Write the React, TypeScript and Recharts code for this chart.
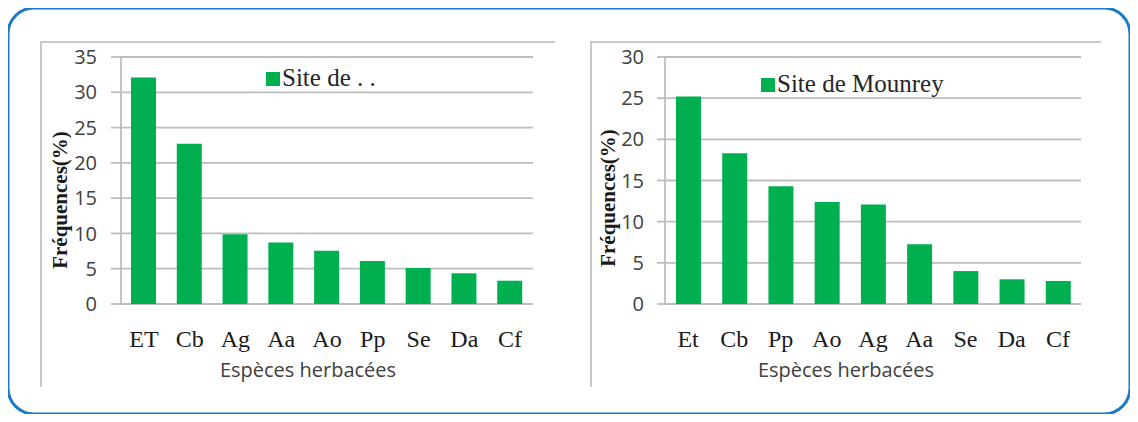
import React from "react";
import {
  BarChart,
  Bar,
  XAxis,
  YAxis,
  CartesianGrid,
  Legend,
  Label,
} from "recharts";

// Site 1 (ordered by frequency)
const speciesSite1 = ["ET", "Cb", "Ag", "Aa", "Ao", "Pp", "Se", "Da", "Cf"];
const freqSite1 = [32.1, 22.7, 9.9, 8.7, 7.55, 6.1, 5.1, 4.35, 3.3];
const ticksSite1 = [0, 5, 10, 15, 20, 25, 30, 35];

// Site de Mounrey
const speciesMounrey = ["Et", "Cb", "Pp", "Ao", "Ag", "Aa", "Se", "Da", "Cf"];
const freqMounrey = [25.2, 18.3, 14.3, 12.4, 12.1, 7.25, 4.0, 3.0, 2.8];
const ticksMounrey = [0, 5, 10, 15, 20, 25, 30];

const GREEN = "#00b050";
const GRID = "#bdbdbd";
const SERIF = "'Liberation Serif', 'Times New Roman', serif";
const SANS = "'Open Sans', 'Noto Sans', sans-serif";

interface PanelProps {
  left: number;
  categories: string[];
  values: number[];
  ticks: number[];
  seriesName: string;
  width: number;
  yAxisWidth: number;
  marginRight: number;
  tickSize: number;
  tickMargin: number;
  legendLeft: number;
  legendTop: number;
  yLabelX: number;
  yLabelY: number;
  xTitleX: number;
}

function FreqPanel(p: PanelProps) {
  const data = p.categories.map((c, i) => ({ name: c, freq: p.values[i] }));
  const height = 346;

  return (
    <>
      <div
        style={{
          position: "absolute",
          left: p.left,
          top: 41,
          width: p.width,
          height: height,
          borderTop: `2px solid #c9c9c9`,
          borderLeft: `2px solid #c9c9c9`,
          boxSizing: "border-box",
        }}
      />
      <div style={{ position: "absolute", left: p.left, top: 42 }}>
        <BarChart
          width={p.width}
          height={height}
          data={data}
          margin={{ top: 15, right: p.marginRight, bottom: 0, left: 0 }}
        >
          <CartesianGrid
            vertical={false}
            stroke={GRID}
            strokeWidth={1.8}
          />
          <XAxis
            dataKey="name"
            height={84}
            axisLine={false}
            tickLine={false}
            tickSize={0}
            tickMargin={0}
            interval={0}
            tick={({ x, y, payload }: any) => (
              <text
                x={x}
                y={y + 43}
                textAnchor="middle"
                fontFamily={SERIF}
                fontSize={24}
                fill="#1a1a1a"
              >
                {payload.value}
              </text>
            )}
          >
            <Label
              content={() => (
                <text
                  x={p.xTitleX}
                  y={335}
                  textAnchor="middle"
                  fontFamily={SANS}
                  fontSize={20}
                  fill="#404040"
                >
                  Espèces herbacées
                </text>
              )}
            />
          </XAxis>
          <YAxis
            width={p.yAxisWidth}
            domain={[0, p.ticks[p.ticks.length - 1]]}
            ticks={p.ticks}
            interval={0}
            stroke={GRID}
            strokeWidth={1.8}
            tickSize={p.tickSize}
            tickMargin={p.tickMargin}
            tick={{ fill: "#404040", fontSize: 20, fontFamily: SANS }}
          >
            <Label
              content={() => (
                <text
                  x={p.yLabelX}
                  y={p.yLabelY}
                  transform={`rotate(-90, ${p.yLabelX}, ${p.yLabelY})`}
                  textAnchor="middle"
                  fontFamily={SERIF}
                  fontWeight="bold"
                  fontSize={21}
                  fill="#1a1a1a"
                >
                  Fréquences(%)
                </text>
              )}
            />
          </YAxis>
          {/* centred + middle so the legend doesn't eat into the plot area */}
          <Legend
            layout="horizontal"
            verticalAlign="middle"
            align="center"
            wrapperStyle={{
              top: p.legendTop,
              left: p.legendLeft,
              width: "auto",
            }}
            content={() => (
              <div
                style={{
                  fontFamily: SERIF,
                  fontSize: 25,
                  lineHeight: 1,
                  color: "#262626",
                  whiteSpace: "nowrap",
                }}
              >
                <span
                  style={{
                    display: "inline-block",
                    width: 14,
                    height: 14,
                    background: GREEN,
                    marginRight: 2,
                  }}
                />
                {p.seriesName}
              </div>
            )}
          />
          <Bar
            dataKey="freq"
            name={p.seriesName}
            fill={GREEN}
            barSize={25}
            isAnimationActive={false}
          />
        </BarChart>
      </div>
    </>
  );
}

export default function App() {
  return (
    <div
      style={{
        position: "relative",
        width: 1138,
        height: 422,
        margin: -8,
        background: "#ffffff",
        overflow: "hidden",
      }}
    >
      <svg
        width={1138}
        height={422}
        style={{ position: "absolute", left: 0, top: 0 }}
      >
        <rect
          x={8}
          y={8}
          width={1122}
          height={406}
          rx={26}
          ry={26}
          fill="none"
          stroke="#1a7cc4"
          strokeWidth={3}
        />
      </svg>
      <FreqPanel
        left={40}
        categories={speciesSite1}
        values={freqSite1}
        ticks={ticksSite1}
        seriesName="Site de . ."
        width={515}
        yAxisWidth={81}
        marginRight={22}
        tickSize={10}
        tickMargin={14}
        legendLeft={226}
        legendTop={23}
        yLabelX={27}
        yLabelY={158}
        xTitleX={268}
      />
      <FreqPanel
        left={590}
        categories={speciesMounrey}
        values={freqMounrey}
        ticks={ticksMounrey}
        seriesName="Site de Mounrey"
        width={511}
        yAxisWidth={75}
        marginRight={20}
        tickSize={8}
        tickMargin={13}
        legendLeft={171}
        legendTop={29}
        yLabelX={25}
        yLabelY={156}
        xTitleX={256}
      />
    </div>
  );
}
